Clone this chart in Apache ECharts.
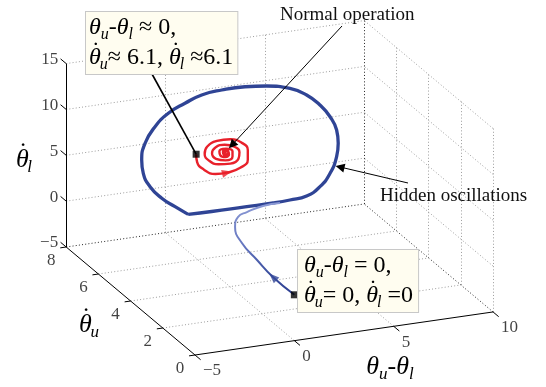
<!DOCTYPE html>
<html>
<head>
<meta charset="utf-8">
<script src="https://cdn.jsdelivr.net/npm/echarts@6/dist/echarts.min.js"></script>
<style>
  html, body { margin: 0; padding: 0; background: #fff; }
  #chart { width: 546px; height: 387px; }
</style>
</head>
<body>
<div id="chart"></div>
<script>
// axis ticks (θu-θl, θ̇u, θ̇l)
const xTicks = [-5, 0, 5, 10];
const yTicks = [0, 2, 4, 6, 8];
const zTicks = [-5, 0, 5, 10, 15];

// hidden oscillation cycle (blue, thick)
const loopX = [-0.4, 0.78, 2.46, 3.88, 4.72, 5.56, 6.23, 6.74, 7.07, 7.15, 7.07, 6.74, 6.23, 5.56, 4.72, 3.55, 2.46, 1.29, 0.28, -0.56, -1.4, -2.07, -2.57, -2.74, -2.66, -2.32, -1.73, -1.06, -0.4];
const loopY = [6.1, 6.1, 6.1, 6.1, 6.1, 6.1, 6.1, 6.1, 6.1, 6.1, 6.1, 6.1, 6.1, 6.1, 6.1, 6.1, 6.1, 6.1, 6.1, 6.1, 6.1, 6.1, 6.1, 6.1, 6.1, 6.1, 6.1, 6.1, 6.1];
const loopZ = [-0.08, -0.14, -0.16, -0.18, -0.12, 0.05, 0.86, 2.16, 3.87, 5.3, 6.78, 8.33, 9.77, 11.07, 12.06, 12.68, 12.94, 12.95, 12.72, 12.08, 11.25, 10.0, 8.35, 6.58, 5.1, 3.54, 2.09, 0.96, -0.08];

// trajectory from zero initial data into the cycle (blue, thin)
const leadX = [0, -0.01, 0.18, 0.4, 0.93, 1.56, 2.2, 3.2, 4.08];
const leadY = [0, 1.32, 2.54, 3.75, 4.83, 5.43, 5.66, 5.9, 5.93];
const leadZ = [0, 0, 0, 0, 0, 0, 0, 0, 0];

// trajectory to normal operation (red spiral)
const redX = [0, 0.05, 0.38, 0.97, 1.55, 2.22, 2.6, 2.6, 2.3, 1.72, 1.05, 0.55, 0.43, 0.63, 1.13, 1.72, 2.13, 2.18, 1.93, 1.43, 0.97, 0.8, 1.0, 1.47, 1.83, 1.83, 1.5, 1.17, 1.22, 1.47, 1.63,
              1.53, 1.35, 1.4, 1.55, 1.65, 1.63, 1.53, 1.43, 1.53, 1.58];
const redY = [6.1, 6.1, 6.1, 6.1, 6.1, 6.1, 6.1, 6.1, 6.1, 6.1, 6.1, 6.1, 6.1, 6.1, 6.1, 6.1, 6.1, 6.1, 6.1, 6.1, 6.1, 6.1, 6.1, 6.1, 6.1, 6.1, 6.1, 6.1, 6.1, 6.1, 6.1,
              6.1, 6.1, 6.1, 6.1, 6.1, 6.1, 6.1, 6.1, 6.1, 6.1];
const redZ = [6.35, 5.48, 4.57, 3.89, 3.85, 4.17, 4.94, 6.0, 6.87, 7.44, 7.47, 6.99, 6.25, 5.48, 4.9, 4.79, 5.19, 5.88, 6.56, 6.93, 6.79, 6.2, 5.54, 5.22, 5.53, 6.09, 6.48, 6.3, 5.83, 5.57, 5.88,
              6.33, 6.17, 5.83, 5.67, 5.8, 6.08, 6.17, 6.04, 5.84, 5.99];

const FONT = 'Liberation Serif';
const BLUE = '#2f4495';
const RED = '#e8212b';

// view: screen spot of the (xmin,ymin,zmin) corner, and screen step per unit of each axis
const ORIGIN = [195, 355];
const EX = [19.87, -2.87];
const EY = [-16.1, -13.5];
const EZ = [0, -9.17];

const x0 = xTicks[0], x1 = xTicks[xTicks.length - 1];
const y0 = yTicks[0], y1 = yTicks[yTicks.length - 1];
const z0 = zTicks[0], z1 = zTicks[zTicks.length - 1];

function proj(x, y, z) {
  const u = x - x0, v = y - y0, w = z - z0;
  return [ORIGIN[0] + EX[0] * u + EY[0] * v + EZ[0] * w,
          ORIGIN[1] + EX[1] * u + EY[1] * v + EZ[1] * w];
}
function seg(a, b) { return { coords: [proj(a[0], a[1], a[2]), proj(b[0], b[1], b[2])] }; }
function path(xs, ys, zs) { return xs.map((x, i) => proj(x, ys[i], zs[i])); }

const gridSeg = [], edgeSeg = [], axisSeg = [];
// floor
xTicks.forEach(x => { if (x > x0 && x < x1) gridSeg.push(seg([x, y0, z0], [x, y1, z0])); });
yTicks.forEach(y => { if (y > y0 && y < y1) gridSeg.push(seg([x0, y, z0], [x1, y, z0])); });
// back wall
zTicks.forEach(z => { if (z > z0) gridSeg.push(seg([x0, y1, z], [x1, y1, z])); });
xTicks.forEach(x => { if (x > x0 && x < x1) gridSeg.push(seg([x, y1, z0], [x, y1, z1])); });
// right wall
zTicks.forEach(z => { if (z > z0) gridSeg.push(seg([x1, y0, z], [x1, y1, z])); });
yTicks.forEach(y => { if (y < y1) gridSeg.push(seg([x1, y, z0], [x1, y, z1])); });
// back box edges
edgeSeg.push(seg([x0, y1, z0], [x1, y1, z0]), seg([x1, y0, z0], [x1, y1, z0]), seg([x1, y1, z0], [x1, y1, z1]));
// axes + ticks
axisSeg.push(seg([x0, y0, z0], [x1, y0, z0]), seg([x0, y0, z0], [x0, y1, z0]), seg([x0, y1, z0], [x0, y1, z1]));
xTicks.forEach(x => axisSeg.push(seg([x, y0, z0], [x, y0 - 0.35, z0])));
yTicks.forEach(y => axisSeg.push(seg([x0, y, z0], [x0 - 0.3, y, z0])));
zTicks.forEach(z => axisSeg.push(seg([x0, y1, z], [x0, y1 + 0.35, z])));

const loopPts = path(loopX, loopY, loopZ);
const leadPts = path(leadX, leadY, leadZ);
const redPts = path(redX, redY, redZ);

function arrowAt(pts, i, color) {
  const a = pts[i - 1], b = pts[i + 1];
  const ang = Math.atan2(-(b[1] - a[1]), b[0] - a[0]) * 180 / Math.PI;
  return { value: pts[i], symbolRotate: ang - 90, itemStyle: { color: color } };
}

const minus = v => String(v).replace('-', '\u2212');
function tickSeries(pts, names, offset, align) {
  return {
    type: 'scatter', symbolSize: 0, silent: true, z: 3,
    data: pts.map((p, i) => ({ value: p, name: names[i] })),
    label: {
      show: true, formatter: '{b}', position: offset, align: align, verticalAlign: 'middle',
      fontFamily: FONT, fontSize: 17, color: '#111'
    }
  };
}

// i: italic symbol, r: upright, s: subscript, d: dot placed back over the preceding θ
function rich(size) {
  return {
    i: { fontFamily: FONT, fontStyle: 'italic', fontSize: size, lineHeight: size + 6, color: '#111' },
    r: { fontFamily: FONT, fontSize: size, lineHeight: size + 6, color: '#111' },
    s: { fontFamily: FONT, fontStyle: 'italic', fontSize: Math.round(size * 0.66), lineHeight: Math.round(size * 0.58), verticalAlign: 'bottom', color: '#111' },
    d: { fontFamily: FONT, fontSize: size, lineHeight: size + 6, color: '#111',
         padding: [0, 0, Math.round(size * 0.5), -Math.round(size * 0.37)] }
  };
}
const TD = '{i|\u03b8}{d|\u02d9}';

const chart = echarts.init(document.getElementById('chart'));
chart.setOption({
  animation: false,
  grid: { left: 0, right: 0, top: 0, bottom: 0 },
  xAxis: { type: 'value', min: 0, max: 546, show: false },
  yAxis: { type: 'value', min: 0, max: 387, inverse: true, show: false },
  series: [
    { type: 'lines', coordinateSystem: 'cartesian2d', silent: true, z: 1, data: gridSeg,
      lineStyle: { color: '#9c9c9c', width: 1, type: [1, 2.2], opacity: 1 } },
    { type: 'lines', coordinateSystem: 'cartesian2d', silent: true, z: 1, data: edgeSeg,
      lineStyle: { color: '#222', width: 1, type: [1, 2.2], opacity: 1 } },
    { type: 'lines', coordinateSystem: 'cartesian2d', silent: true, z: 2, data: axisSeg,
      lineStyle: { color: '#000', width: 1, opacity: 1 } },
    tickSeries(zTicks.map(z => proj(x0, y1, z)), zTicks.map(minus), [-8, -4], 'right'),
    tickSeries(yTicks.map(y => proj(x0, y, z0)), yTicks.map(minus), [-15, 14], 'center'),
    tickSeries(xTicks.map(x => proj(x, y0, z0)), xTicks.map(minus), [8, 16], 'left'),
    { type: 'line', data: loopPts, showSymbol: false, smooth: 0.5, silent: true, z: 3,
      lineStyle: { color: BLUE, width: 3.3 } },
    { type: 'line', data: leadPts, showSymbol: false, smooth: 0.5, silent: true, z: 3,
      lineStyle: { width: 2, color: { type: 'linear', x: 0, y: 0, x2: 0, y2: 1,
        colorStops: [{ offset: 0, color: '#8d9bd6' }, { offset: 0.45, color: '#6677c0' },
                     { offset: 0.75, color: '#3b4f9f' }, { offset: 1, color: '#2c3e91' }] } } },
    { type: 'line', data: redPts, showSymbol: false, smooth: 0.5, silent: true, z: 4,
      lineStyle: { color: RED, width: 2.4 } },
    { type: 'scatter', symbol: 'triangle', symbolSize: [8, 10], silent: true, z: 5,
      data: [arrowAt(redPts, 4, RED), arrowAt(leadPts, 1, '#34489a')] },
    { type: 'scatter', symbol: 'rect', symbolSize: 7, silent: true, z: 6,
      itemStyle: { color: '#000' }, data: [leadPts[0], redPts[0]] },
    { type: 'lines', coordinateSystem: 'cartesian2d', silent: true, z: 6,
      symbol: ['none', 'triangle'], symbolSize: [0, 9],
      lineStyle: { color: '#000', width: 1, opacity: 1 },
      data: [{ coords: [[342, 26], [232, 145]] }, { coords: [[408, 183], [340, 167]] }] },
    { type: 'lines', coordinateSystem: 'cartesian2d', silent: true, z: 6,
      lineStyle: { color: '#000', width: 1.6, opacity: 1 },
      data: [{ coords: [[152, 74], redPts[0]] }] }
  ],
  graphic: [
    { type: 'text', x: 86, y: 12, z: 100,
      style: { text: '{i|\u03b8}{s|u}{i|-\u03b8}{s|l}{r| \u2248 0,}\n' + TD + '{s|u}{r|\u2248 6.1, }' + TD + '{s|l}{r| \u22486.1}',
        rich: rich(24), backgroundColor: '#fffdf0', borderColor: '#c8c8c8', borderWidth: 1, padding: [1, 4, 1, 3] } },
    { type: 'text', x: 298, y: 250, z: 100,
      style: { text: '{i|\u03b8}{s|u}{i|-\u03b8}{s|l}{r| = 0,}\n' + TD + '{s|u}{r|= 0, }' + TD + '{s|l}{r| =0}',
        rich: rich(24), backgroundColor: '#fffdf0', borderColor: '#c8c8c8', borderWidth: 1, padding: [1, 5, 1, 6] } },
    { type: 'text', x: 280, y: 15, z: 100,
      style: { text: 'Normal operation', font: '19px "Liberation Serif"', fill: '#111', verticalAlign: 'middle' } },
    { type: 'text', x: 380, y: 196, z: 100,
      style: { text: 'Hidden oscillations', font: '19px "Liberation Serif"', fill: '#111', verticalAlign: 'middle' } },
    { type: 'text', x: 24, y: 160, z: 100,
      style: { text: TD + '{s|l}', rich: rich(26), align: 'center', verticalAlign: 'middle' } },
    { type: 'text', x: 89, y: 325, z: 100,
      style: { text: TD + '{s|u}', rich: rich(26), align: 'center', verticalAlign: 'middle' } },
    { type: 'text', x: 390, y: 367, z: 100,
      style: { text: '{i|\u03b8}{s|u}{i|-\u03b8}{s|l}', rich: rich(26), align: 'center', verticalAlign: 'middle' } }
  ]
});
</script>
</body>
</html>
